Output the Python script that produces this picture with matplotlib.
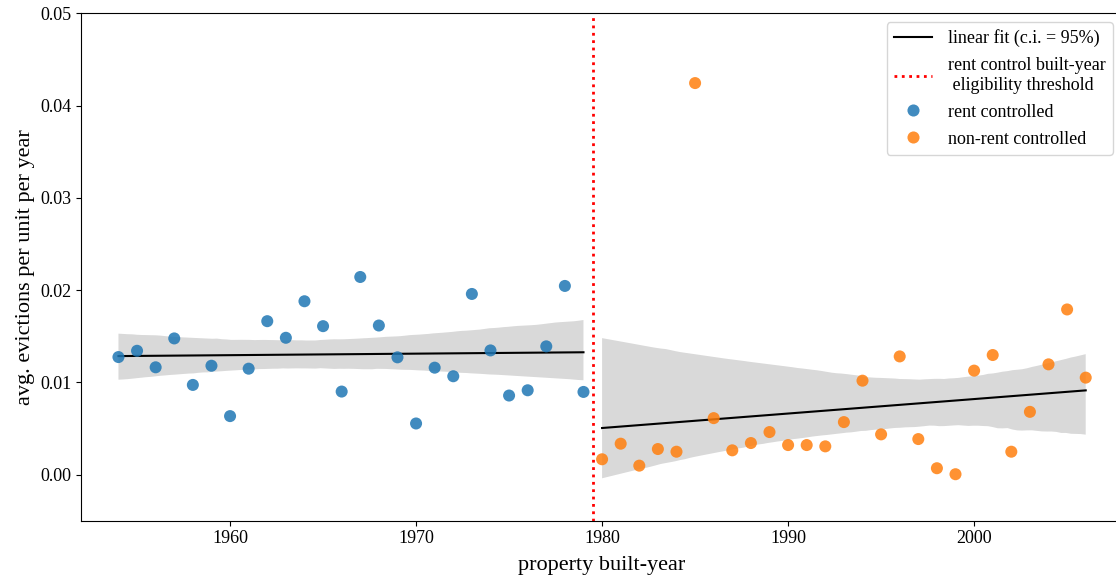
import numpy as np
import matplotlib
matplotlib.use("Agg")
import matplotlib.pyplot as plt
import seaborn as sns
from matplotlib.lines import Line2D

plt.rcParams['font.family'] = ['Liberation Serif', 'DejaVu Serif']

# built years and average evictions per unit per year
rc_years = list(range(1954, 1980))
rc_evictions = [0.01274, 0.01342, 0.01163, 0.01476, 0.00972, 0.01180, 0.00634,
                0.01148, 0.01663, 0.01483, 0.01879, 0.01609, 0.00900, 0.02142,
                0.01616, 0.01271, 0.00554, 0.01159, 0.01066, 0.01958, 0.01346,
                0.00857, 0.00914, 0.01390, 0.02045, 0.00896]

nrc_years = list(range(1980, 2007))
nrc_evictions = [0.00166, 0.00335, 0.00097, 0.00277, 0.00248, 0.04244, 0.00612,
                 0.00263, 0.00342, 0.00461, 0.00320, 0.00320, 0.00306, 0.00569,
                 0.01018, 0.00436, 0.01281, 0.00385, 0.00069, 0.00004, 0.01127,
                 0.01296, 0.00248, 0.00680, 0.01195, 0.01790, 0.01051]

threshold = 1979.5

fig = plt.figure(figsize=(11.16, 5.82), dpi=100)
ax = fig.add_axes([0.0728, 0.1053, 0.9334, 0.8718])

for xs, ys in [(rc_years, rc_evictions), (nrc_years, nrc_evictions)]:
    sns.regplot(x=np.array(xs, dtype=float), y=np.array(ys), ax=ax, scatter=False,
                ci=95, seed=1, color='k', line_kws={'lw': 1.5})

ax.scatter(rc_years, rc_evictions, s=75, color='#1f77b4', alpha=0.85,
           edgecolors='none', zorder=3)
ax.scatter(nrc_years, nrc_evictions, s=75, color='#ff7f0e', alpha=0.85,
           edgecolors='none', zorder=3)
ax.axvline(threshold, color='red', linestyle=':', lw=2)

ax.set_xlim(1952, 2008)
ax.set_ylim(-0.005, 0.05)
ax.set_xticks([1960, 1970, 1980, 1990, 2000])
ax.set_yticks([0.0, 0.01, 0.02, 0.03, 0.04, 0.05])
ax.yaxis.set_major_formatter(matplotlib.ticker.FormatStrFormatter('%.2f'))
ax.tick_params(labelsize=13)
ax.set_xlabel('property built-year', fontsize=16, labelpad=6)
ax.set_ylabel('avg. evictions per unit per year', fontsize=16)

handles = [
    Line2D([], [], color='k', lw=1.5),
    Line2D([], [], color='red', linestyle=':', lw=2),
    Line2D([], [], marker='o', ls='none', markersize=8.7, color='#1f77b4',
           alpha=0.85, markeredgewidth=0),
    Line2D([], [], marker='o', ls='none', markersize=8.7, color='#ff7f0e',
           alpha=0.85, markeredgewidth=0),
]
labels = ['linear fit (c.i. = 95%)', 'rent control built-year\n eligibility threshold',
          'rent controlled', 'non-rent controlled']
ax.legend(handles, labels, loc='upper right', fontsize=13, labelspacing=0.55,
          handlelength=2.1, handletextpad=0.9,
          bbox_to_anchor=(1113 / 1116, 1 - 22 / 582), bbox_transform=fig.transFigure,
          borderaxespad=0)

fig.savefig('out.png', dpi=100)
